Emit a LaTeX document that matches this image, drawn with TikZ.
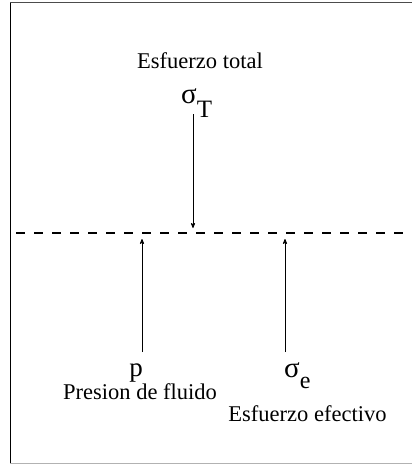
\documentclass[tikz,border=0pt]{standalone}
\usepackage{fontspec}
\setmainfont{Liberation Serif}
\usepackage{tikz}
\usepgflibrary{arrows}
\tikzstyle{arr}=[->,>=stealth',line width=0.8pt]

\begin{document}
\begin{tikzpicture}[x=1pt,y=-1pt]
  \tikzstyle lbl=[inner sep=0pt,anchor=base,font=\fontsize{22.5}{26}\selectfont];
  \tikzstyle sym=[inner sep=0pt,anchor=base west,font=\fontsize{29}{32}\selectfont];
  \tikzstyle dl=[line width=2pt,dash pattern=on 8.5pt off 9.5pt];
  \def\yl{233}
  \def\xp{142}
  \def\xe{285}

  \useasboundingbox (0,0) rectangle (412,466);

  % frame
  \draw[line width=1.5pt] (10.5,2) -- (10.5,463.5);
  \draw[line width=1.2pt,color=black!70] (10,2.5) -- (412,2.5);
  \draw[line width=1pt,color=black!30] (10,463.5) -- (412,463.5);

  % dashed line
  \draw[dl] (16,\yl) -- (412,\yl);

  % text
  \node[lbl] (total) at (200,68) {Esfuerzo total};
  \node[sym] (sigT) at (181,103) {σ\raisebox{-14pt}{\fontsize{25}{28}\selectfont T}};
  \node[lbl,font=\fontsize{27}{30}\selectfont] (p) at (136,376) {p};
  \node[lbl] (fluido) at (140,399) {Presion de fluido};
  \node[sym] (sige) at (284,377) {σ\raisebox{-11pt}{\fontsize{24}{28}\selectfont e}};
  \node[lbl] (efectivo) at (307.5,421) {Esfuerzo efectivo};

  % arrows
  \coordinate (tT) at (193,114);
  \coordinate (hT) at (193,\yl-5);
  \coordinate (tp) at (\xp,352);
  \coordinate (hp) at (\xp,\yl+6);
  \coordinate (te) at (\xe,352);
  \coordinate (he) at (\xe,\yl+6);
  \draw[arr] (tT) -- (hT);
  \draw[arr] (tp) -- (hp);
  \draw[arr] (te) -- (he);
\end{tikzpicture}
\end{document}
